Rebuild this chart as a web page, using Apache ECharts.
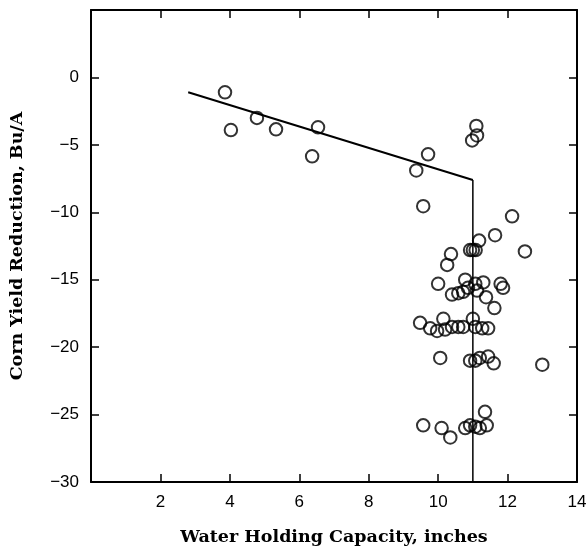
<!DOCTYPE html>
<html>
<head>
<meta charset="utf-8">
<script src="https://cdn.jsdelivr.net/npm/echarts@6/dist/echarts.min.js"></script>
<style>html,body{margin:0;padding:0;background:#fff}#c{width:587px;height:550px}</style>
</head>
<body>
<div id="c"></div>
<script>
// Water holding capacity (inches) of each observation
const waterCap = [
  3.86, 4.03, 4.78, 5.33, 6.37, 6.54, 9.37, 9.71, 9.57, 11.10, 11.12, 10.98, 12.13,
  11.64, 11.18, 10.92, 11.00, 11.08, 12.50, 10.37, 10.26,
  10.00, 10.78, 11.07, 11.30, 11.80, 11.87, 10.40, 10.58, 10.72, 10.86, 11.12, 11.38, 11.62,
  9.48, 9.77, 9.97, 10.15, 10.20, 10.40, 10.58, 10.72, 11.00, 11.07, 11.27, 11.44,
  10.06, 10.92, 11.07, 11.20, 11.44, 11.60, 13.00,
  9.57, 10.10, 10.35, 10.78, 10.92, 11.07, 11.20, 11.35, 11.40
];
// Corn yield reduction (Bu/A) of each observation
const yieldRed = [
  -1.1, -3.9, -3.0, -3.85, -5.85, -3.7, -6.9, -5.7, -9.55, -3.6, -4.3, -4.67, -10.3,
  -11.7, -12.1, -12.8, -12.8, -12.8, -12.9, -13.1, -13.9,
  -15.3, -15.0, -15.3, -15.2, -15.3, -15.6, -16.1, -16.0, -15.9, -15.6, -15.8, -16.3, -17.1,
  -18.2, -18.6, -18.8, -17.9, -18.7, -18.5, -18.5, -18.5, -17.9, -18.5, -18.6, -18.6,
  -20.8, -21.0, -21.0, -20.8, -20.7, -21.2, -21.3,
  -25.8, -26.0, -26.7, -26.0, -25.8, -25.9, -26.0, -24.8, -25.8
];
// Fitted sloped segment and the break line
const fitLineX = [2.8, 11.0];
const fitLineY = [-1.1, -7.6];
const breakLineX = [11.0, 11.0];
const breakLineY = [-7.6, -30];

const xTicks = [0, 14, 2];   // min, max, interval
const yTicks = [-30, 5, 5];

const pts = waterCap.map((x, i) => [x, yieldRed[i]]);
const fit = fitLineX.map((x, i) => [x, fitLineY[i]]);
const brk = breakLineX.map((x, i) => [x, breakLineY[i]]);

const chart = echarts.init(document.getElementById('c'), null, {renderer: 'canvas'});
const labelFont = {fontFamily: 'Liberation Sans', fontSize: 17, color: '#000'};
const nameFont = {fontFamily: 'DejaVu Serif', fontWeight: 'bold', fontSize: 17.5, color: '#000'};
const axisLine = {show: true, onZero: false, lineStyle: {color: '#000', width: 2}};
const tick = {show: true, inside: true, length: 8, lineStyle: {color: '#000', width: 1.5}};

chart.setOption({
  animation: false,
  backgroundColor: '#fff',
  grid: {left: 91, right: 10, top: 10, bottom: 68, containLabel: false, outerBoundsMode: 'none'},
  xAxis: [{
    type: 'value', min: xTicks[0], max: xTicks[1], interval: xTicks[2],
    position: 'bottom',
    axisLine: axisLine, axisTick: tick, splitLine: {show: false},
    axisLabel: Object.assign({margin: 12, formatter: v => v === 0 ? '' : String(v)}, labelFont),
    name: 'Water Holding Capacity, inches', nameLocation: 'middle', nameGap: 46,
    nameTextStyle: nameFont
  }, {
    type: 'value', min: xTicks[0], max: xTicks[1], interval: xTicks[2],
    position: 'top',
    axisLine: axisLine, axisTick: tick, splitLine: {show: false},
    axisLabel: {show: false}
  }],
  yAxis: [{
    type: 'value', min: yTicks[0], max: yTicks[1], interval: yTicks[2],
    position: 'left',
    axisLine: axisLine, axisTick: tick, splitLine: {show: false},
    axisLabel: Object.assign({margin: 12, formatter: v => v === 5 ? '' : (v < 0 ? '\u2212' + Math.abs(v) : String(v))}, labelFont),
    name: 'Corn Yield Reduction, Bu/A', nameLocation: 'middle', nameGap: 65,
    nameTextStyle: nameFont
  }, {
    type: 'value', min: yTicks[0], max: yTicks[1], interval: yTicks[2],
    position: 'right',
    axisLine: axisLine, axisTick: tick, splitLine: {show: false},
    axisLabel: {show: false}
  }],
  series: [{
    type: 'line', data: fit, symbol: 'none',
    lineStyle: {color: '#000', width: 2}, z: 3
  }, {
    type: 'line', data: brk, symbol: 'none',
    lineStyle: {color: '#000', width: 1.5}, z: 3
  }, {
    type: 'scatter', data: pts, symbol: 'circle', symbolSize: 12.5,
    itemStyle: {color: 'rgba(0,0,0,0)', borderColor: '#000', borderWidth: 2},
    z: 4
  }]
});
</script>
</body>
</html>
